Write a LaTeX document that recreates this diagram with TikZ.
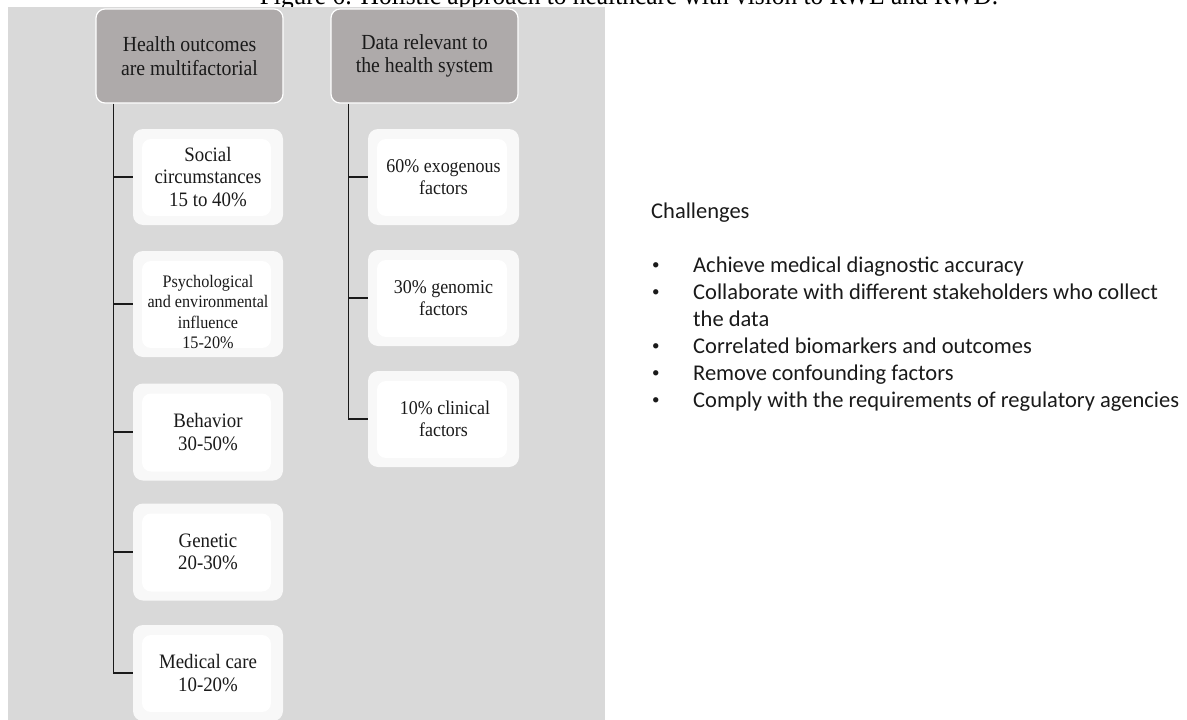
\documentclass[tikz,border=0pt]{standalone}
\usepackage{fontspec}
\setmainfont[FakeStretch=0.92]{Liberation Serif}
\newfontfamily\sidefont{Carlito}
\usetikzlibrary{calc}

\definecolor{panelgray}{HTML}{D9D9D9}
\definecolor{hdrgray}{HTML}{AEAAAA}
\definecolor{leafouter}{HTML}{F8F8F8}
\definecolor{linecol}{HTML}{1A1A1A}
\definecolor{inkcol}{HTML}{1A1A1A}

\begin{document}
\begin{tikzpicture}[x=1pt,y=-1pt,
  hdr/.style={rounded corners=9pt, fill=hdrgray, draw=white, line width=1.2pt,
    minimum width=187pt, minimum height=94pt, align=center, inner sep=0pt,
    text=inkcol, font=\fontsize{21.5}{23.5}\selectfont},
  leaf/.style={rounded corners=10pt, fill=leafouter, minimum width=150pt,
    align=center, inner sep=0pt, text=inkcol,
    font=\fontsize{20.5}{22.5}\selectfont,
    path picture={\fill[white, rounded corners=9pt]
      ([shift={(9pt,-10pt)}]path picture bounding box.north west) rectangle
      ([shift={(-12pt,9pt)}]path picture bounding box.south east);}},
  rleaf/.style={leaf, minimum width=151pt, minimum height=96pt,
    font=\fontsize{19.5}{22.5}\selectfont},
  conn/.style={draw=linecol, line width=1.8pt},
  side/.style={anchor=base west, inner sep=0pt, text=inkcol,
    font=\sidefont\fontsize{22.5}{27}\selectfont},
  dot/.style={side, font=\sidefont\fontsize{15}{27}\selectfont, yshift=3pt}]

\useasboundingbox (0,0) rectangle (1187,720);
\clip (0,0) rectangle (1187,720);

% caption line, cut by the top edge
\node[anchor=base, inner sep=0pt, font=\fontsize{27.6}{30}\selectfont] (title)
  at (629,5) {Figure 6: Holistic approach to healthcare with vision to RWE and RWD.};

% grey panel behind the two trees
\fill[panelgray] (8,7) rectangle (605,725);

% column headers
\node[hdr] (h1) at (189.5,56) {Health outcomes\\are multifactorial};
\node[hdr] (h2) at (424.5,56) {Data relevant to\\the health system};

% left column
\node[leaf, minimum height=96pt] (s1) at (208,177) {Social\\circumstances\\15 to 40\%};
\node[leaf, minimum height=106pt, font=\fontsize{17.6}{20.5}\selectfont] (s2) at (208,304)
  {\rule{0pt}{28pt}Psychological\\and environmental\\influence\\15-20\%};
\node[leaf, minimum height=97pt] (s3) at (208,432) {Behavior\\30-50\%};
\node[leaf, minimum height=97pt] (s4) at (208,552) {Genetic\\20-30\%};
\node[leaf, minimum height=96pt] (s5) at (208,673) {Medical care\\10-20\%};

% right column
\node[rleaf] (d1) at (443.5,177) {60\% exogenous\\factors};
\node[rleaf] (d2) at (443.5,298) {30\% genomic\\factors};
\node[rleaf] (d3) at (443.5,419) {\hspace*{3pt}10\% clinical\\factors};

% tree connectors
\coordinate (t1) at ([xshift=18pt]h1.south west);
\coordinate (t2) at ([xshift=18pt]h2.south west);
\draw[conn] (t1) |- (s5.west);
\foreach \n in {s1,s2,s3,s4} \draw[conn] (\n.west) -- (\n.west -| t1);
\draw[conn] (t2) |- (d3.west);
\foreach \n in {d1,d2} \draw[conn] (\n.west) -- (\n.west -| t2);

% challenges list
\node[side] (ch) at (651,218) {Challenges};
\node[dot] (b1) at (652,272) {•};
\node[side] (i1) at (693,272) {Achieve medical diagnostic accuracy};
\node[dot] (b2) at (652,299) {•};
\node[side] (i2) at (693,299) {Collaborate with different stakeholders who collect};
\node[side] (i2b) at (693,326) {the data};
\node[dot] (b3) at (652,353) {•};
\node[side] (i3) at (693,353) {Correlated biomarkers and outcomes};
\node[dot] (b4) at (652,380) {•};
\node[side] (i4) at (693,380) {Remove confounding factors};
\node[dot] (b5) at (652,407) {•};
\node[side] (i5) at (693,407) {Comply with the requirements of regulatory agencies};
\end{tikzpicture}
\end{document}
